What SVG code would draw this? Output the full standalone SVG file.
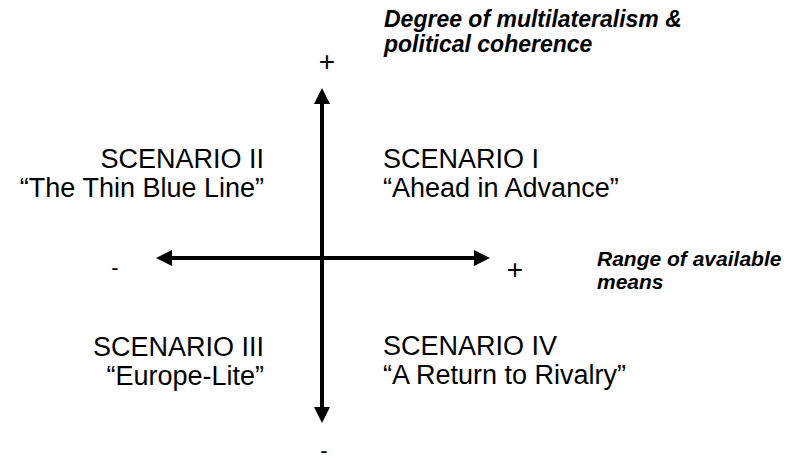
<svg xmlns="http://www.w3.org/2000/svg" width="798" height="463" viewBox="0 0 798 463">
<style>
.q{font-family:"Liberation Sans",Arial,sans-serif;font-size:27px;fill:#000}
.l{text-anchor:end}
.ax{font-family:"Liberation Sans",Arial,sans-serif;font-weight:bold;font-style:italic;fill:#000}
.s{font-family:"Liberation Sans",Arial,sans-serif;font-size:28px;fill:#000;text-anchor:middle}
.m{font-family:"Liberation Sans",Arial,sans-serif;font-size:22px;fill:#000;text-anchor:middle}
.ln{stroke:#000;stroke-width:4;fill:none}
</style>
<rect width="798" height="463" fill="#fff"/>
<g id="connectors">
<line class="ln" x1="322" y1="102" x2="322" y2="409"/>
<polygon points="322,88 314,104 330,104"/>
<polygon points="322,423 314,407 330,407"/>
<line class="ln" x1="170" y1="258" x2="476" y2="258"/>
<polygon points="156,258 172,250 172,266"/>
<polygon points="490,258 474,250 474,266"/>
</g>
<g id="scenario1"><text class="q" x="383" y="168">SCENARIO I</text><text class="q" x="383" y="197">“Ahead in Advance”</text></g>
<g id="scenario2"><text class="q l" x="264" y="168">SCENARIO II</text><text class="q l" x="264" y="197">“The Thin Blue Line”</text></g>
<g id="scenario3"><text class="q l" x="264" y="356">SCENARIO III</text><text class="q l" x="264" y="385">“Europe-Lite”</text></g>
<g id="scenario4"><text class="q" x="383" y="355">SCENARIO IV</text><text class="q" x="383" y="384">“A Return to Rivalry”</text></g>
<g id="y-axis-label"><text class="ax" x="384" y="27" font-size="23">Degree of multilateralism &amp;</text><text class="ax" x="384" y="52" font-size="23">political coherence</text></g>
<g id="x-axis-label"><text class="ax" x="597" y="266" font-size="21">Range of available</text><text class="ax" x="597" y="289" font-size="21">means</text></g>
<g id="signs">
<text class="s" x="327" y="71">+</text>
<text class="s" x="515" y="279">+</text>
<text class="m" x="115" y="275">-</text>
<text class="m" x="324" y="458">-</text>
</g>
</svg>
